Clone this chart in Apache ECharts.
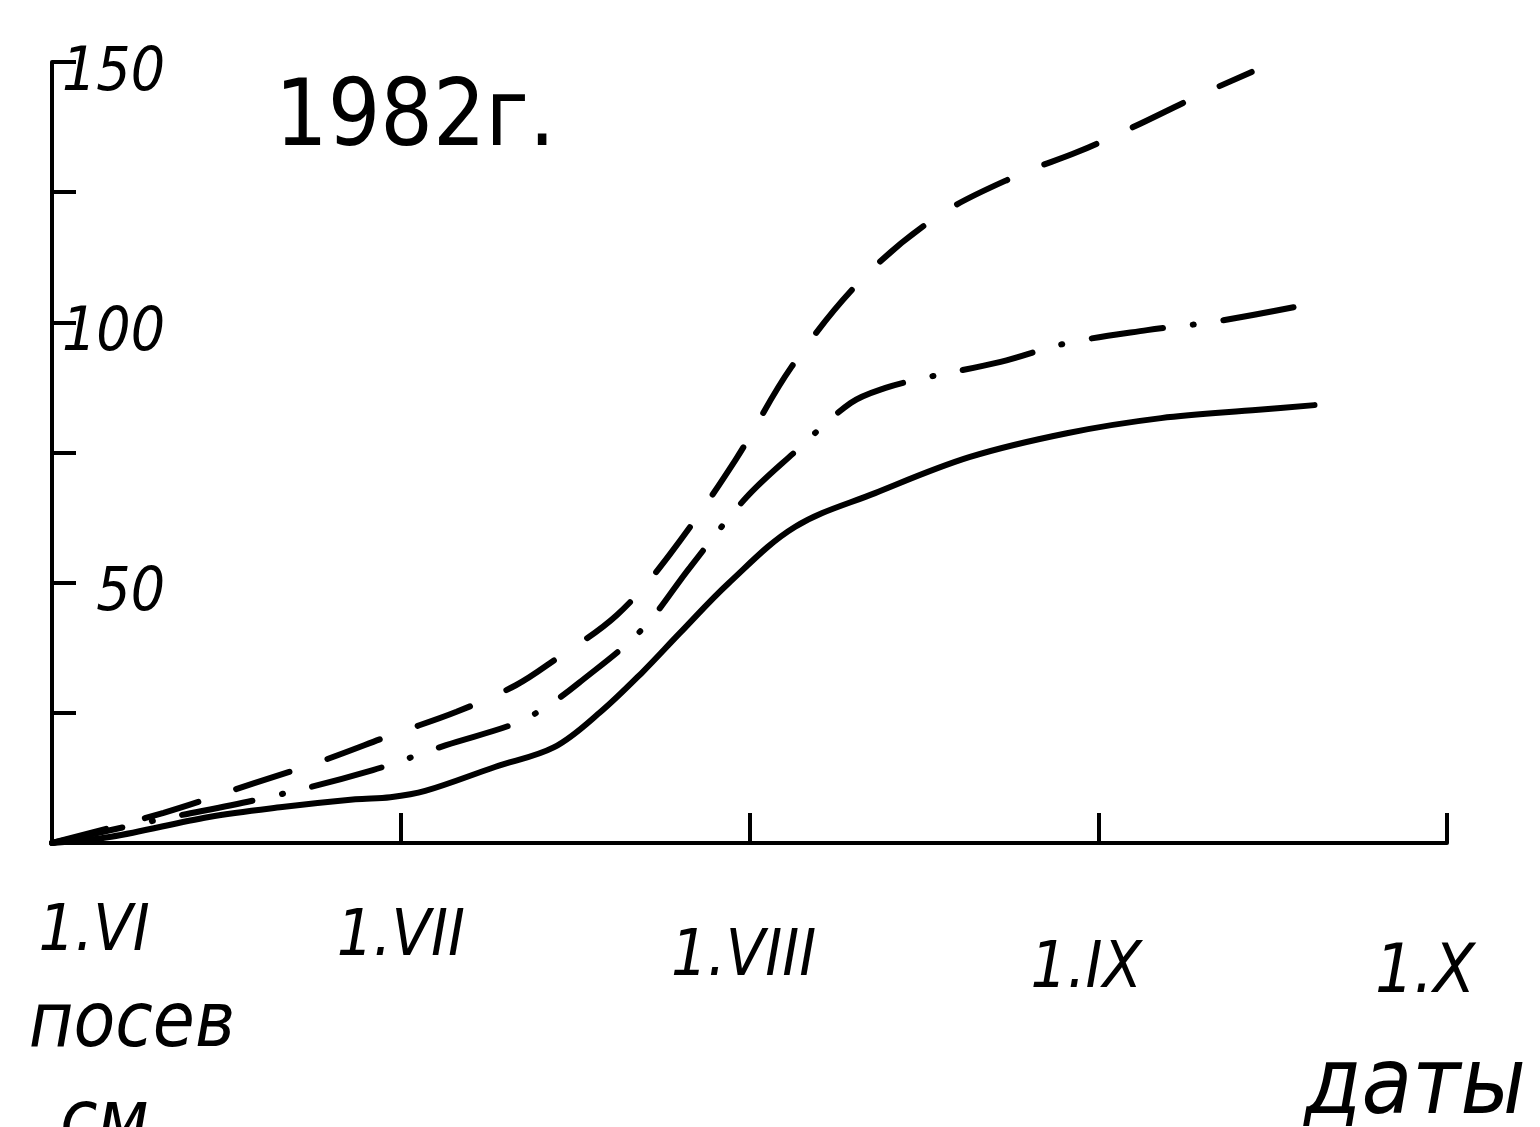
<!DOCTYPE html>
<html>
<head>
<meta charset="utf-8">
<script src="https://cdn.jsdelivr.net/npm/echarts@6/dist/echarts.min.js"></script>
<style>
html,body{margin:0;padding:0;background:#fff;}
#chart{width:1540px;height:1127px;}
</style>
</head>
<body>
<div id="chart"></div>
<script>
// x in months after 1 June (0 = 1.VI, 4 = 1.X); y in cm
const xTickLabels = ['1.VI', '1.VII', '1.VIII', '1.IX', '1.X'];
const sowingLabel = 'посев';
const xAxisName = 'даты';
const yAxisName = 'см';
const titleText = '1982г.';
const yLabelValues = [50, 100, 150];

const solidMonth = [0, 0.17, 0.45, 0.66, 0.87, 0.97, 1.07, 1.27, 1.44, 1.57, 1.69, 1.80, 1.94, 2.13, 2.36, 2.63, 2.91, 3.18, 3.46, 3.62];
const solidCm    = [0, 1.2, 5.0, 6.9, 8.4, 8.8, 10.0, 14.6, 18.4, 25.0, 32.6, 40.3, 49.9, 60.7, 67.2, 74.1, 78.7, 81.6, 83.2, 84.1];

const dashDotMonth = [0, 0.30, 0.62, 0.92, 1.13, 1.33, 1.42, 1.51, 1.69, 1.83, 1.99, 2.13, 2.29, 2.39, 2.50, 2.72, 2.91, 3.14, 3.33, 3.56];
const dashDotCm    = [0, 4.4, 8.8, 14.0, 18.8, 23.0, 26.3, 30.7, 40.9, 53.0, 66.3, 75.1, 84.5, 87.4, 89.3, 92.4, 96.0, 98.5, 100.1, 102.9];

const dashedMonth = [0, 0.32, 0.58, 0.78, 0.98, 1.16, 1.33, 1.44, 1.62, 1.77, 1.96, 2.12, 2.32, 2.54, 2.77, 2.94, 3.10, 3.28, 3.44];
const dashedCm    = [0, 5.8, 11.5, 15.9, 20.9, 25.2, 30.3, 35.1, 43.8, 55.3, 73.6, 91.4, 108.1, 120.4, 128.3, 132.7, 137.5, 143.3, 148.1];

const pairs = (xs, ys) => xs.map((x, i) => [x, ys[i]]);

const FONT = "'Liberation Sans Narrow', 'DejaVu Sans Condensed', 'Liberation Sans', sans-serif";
const INK = '#000';
const it = (size, lh, pad) => ({ fontFamily: FONT, fontStyle: 'italic', fontSize: size, lineHeight: lh, padding: pad, color: INK });

const chart = echarts.init(document.getElementById('chart'));
chart.setOption({
  backgroundColor: '#fff',
  animation: false,
  title: {
    text: titleText,
    left: 275,
    top: 75,
    padding: 0,
    textStyle: { fontFamily: FONT, fontSize: 92, fontWeight: 'normal', color: INK }
  },
  grid: { left: 52, right: 93, top: 62, bottom: 284, containLabel: false, outerBoundsMode: 'none' },
  xAxis: {
    type: 'value',
    min: 0, max: 4, interval: 1,
    splitLine: { show: false },
    axisLine: { show: true, lineStyle: { color: INK, width: 4 } },
    axisTick: { show: true, inside: true, length: 30, lineStyle: { color: INK, width: 4 } },
    axisLabel: {
      show: true, showMinLabel: true, showMaxLabel: true, hideOverlap: false,
      margin: 45,
      color: INK,
      fontFamily: FONT, fontStyle: 'italic',
      formatter: function (v) {
        const i = Math.round(v);
        if (i === 0) return '{l0|' + xTickLabels[0] + '}\n{p|' + sowingLabel + '}';
        if (i === 4) return '{l4|' + xTickLabels[4] + '}\n{d|' + xAxisName + '}';
        return '{l' + i + '|' + xTickLabels[i] + '}';
      },
      rich: {
        l0: it(64, 90, [0, 0, 0, 84]),
        p:  it(76, 96, [0, 0, 0, 160]),
        l1: it(64, 100, [0, 0, 0, 0]),
        l2: it(64, 140, [0, 12, 0, 0]),
        l3: it(64, 164, [0, 24, 0, 0]),
        l4: it(68, 172, [0, 44, 0, 0]),
        d:  it(92, 58, [0, 64, 0, 0])
      }
    }
  },
  yAxis: {
    type: 'value',
    min: 0, max: 150, interval: 25,
    name: yAxisName,
    nameLocation: 'start',
    nameGap: 243,
    nameTextStyle: {
      fontFamily: FONT, fontStyle: 'italic', fontSize: 76, color: INK,
      align: 'left', verticalAlign: 'top', lineHeight: 76, padding: [0, 0, 0, 8]
    },
    splitLine: { show: false },
    axisLine: { show: true, lineStyle: { color: INK, width: 4 } },
    axisTick: { show: true, inside: true, length: 24, lineStyle: { color: INK, width: 4 } },
    axisLabel: {
      show: true, inside: true, margin: 113, align: 'right', hideOverlap: false,
      verticalAlign: 'top', lineHeight: 24,
      color: INK, fontFamily: FONT, fontStyle: 'italic', fontSize: 60,
      formatter: function (v) { return yLabelValues.indexOf(v) >= 0 ? String(v) : ''; }
    }
  },
  series: [
    {
      name: 'solid', type: 'line', data: pairs(solidMonth, solidCm),
      smooth: 0.35, showSymbol: false, symbol: 'none',
      lineStyle: { color: INK, width: 6, type: 'solid', cap: 'round' }
    },
    {
      name: 'dashdot', type: 'line', data: pairs(dashDotMonth, dashDotCm),
      smooth: 0.35, showSymbol: false, symbol: 'none',
      lineStyle: { color: INK, width: 6, type: [72, 30, 1, 30], cap: 'round' }
    },
    {
      name: 'dashed', type: 'line', data: pairs(dashedMonth, dashedCm),
      smooth: 0.35, showSymbol: false, symbol: 'none',
      lineStyle: { color: INK, width: 6, type: [56, 40], cap: 'round' }
    }
  ]
});
</script>
</body>
</html>
